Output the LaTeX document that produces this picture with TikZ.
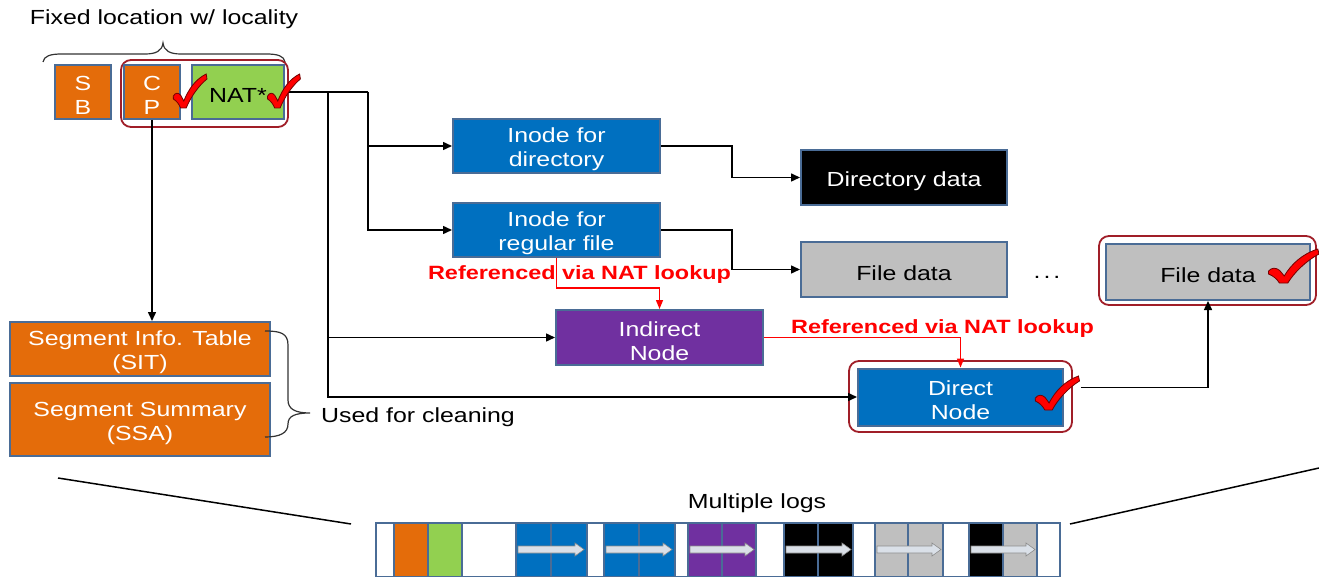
\documentclass[tikz,border=0pt]{standalone}
\usepackage{fontspec}
\setmainfont{Liberation Sans}[FakeStretch=1.22]
\usetikzlibrary{arrows.meta,calc}
\definecolor{bord}{RGB}{74,108,150}
\definecolor{orng}{RGB}{228,108,10}
\definecolor{grn}{RGB}{146,208,80}
\definecolor{blu}{RGB}{0,112,192}
\definecolor{purp}{RGB}{112,48,160}
\definecolor{gry}{RGB}{191,191,191}
\definecolor{frm}{RGB}{160,30,40}
\definecolor{redl}{RGB}{255,0,0}
\definecolor{arrg}{RGB}{218,224,232}
\newcommand\mystrut{\rule{0pt}{21.5pt}}
\tikzset{
  box/.style={draw=bord, line width=2pt, inner sep=0pt, align=center, text=white},
  frame/.style={draw=frm, line width=1.8pt, rounded corners=10pt, inner sep=0pt},
  conn/.style={draw=black, line width=1.5pt},
  arr/.style={conn, -{Triangle[length=9pt,width=8pt]}},
  redarr/.style={draw=redl, line width=1.4pt, -{Triangle[length=9pt,width=7pt]}},
  lbl/.style={inner sep=0pt},
  redlbl/.style={inner sep=0pt, text=redl, font=\fontsize{19.2}{22}\selectfont\bfseries},
  chk/.pic={\filldraw[fill=redl, draw=red!45!black, line width=0.8pt]
    (-10,-12) .. controls (-7,-14) and (-3,-12) .. (-1,-8) -- (1,-5)
    .. controls (7,-17) and (16,-27) .. (29,-32) -- (30,-27)
    .. controls (19,-20) and (9,-8) .. (4,2) -- (-3,2)
    .. controls (-5,-2) and (-8,-5) .. (-12,-7)
    .. controls (-13,-9) and (-12,-11) .. (-10,-12) -- cycle;}
}
\begin{document}
\begin{tikzpicture}[x=1pt,y=-1pt,font=\fontsize{20.4}{24}\selectfont]
\useasboundingbox (0,0) rectangle (1319,577);

% title and brace
\node[lbl] (title) at (164,19) {Fixed location w/ locality};
\draw[line width=1.2pt, black!80] (43,62) .. controls (44,56) and (50,54) .. (62,54) -- (145,54)
  .. controls (156,54) and (162,51) .. (163,43) .. controls (164,51) and (170,54) .. (181,54)
  -- (266,54) .. controls (278,54) and (284,56) .. (285,62);

% frames
\node[frame, minimum width=167pt, minimum height=67pt] (cpframe) at (204.5,93.5) {};
\node[frame, minimum width=217pt, minimum height=69pt] (fdframe) at (1207.5,270.5) {};
\node[frame, minimum width=223pt, minimum height=71pt] (dnframe) at (960.5,396.5) {};

% boxes
\node[box, fill=orng, minimum width=56pt, minimum height=54pt] (sb) at (83,92) {\mystrut S\\B};
\node[box, fill=orng, minimum width=56pt, minimum height=54pt] (cp) at (152,92) {\mystrut C\\P};
\node[box, fill=grn, text=black, minimum width=92pt, minimum height=54pt] (nat) at (238,92) {\mystrut NAT*};
\node[box, fill=orng, minimum width=260pt, minimum height=54pt] (sit) at (140,349) {\mystrut Segment Info. Table\\(SIT)};
\node[box, fill=orng, minimum width=260pt, minimum height=73pt] (ssa) at (140,419.5) {\mystrut Segment Summary\\(SSA)};
\node[box, fill=blu, minimum width=207pt, minimum height=54pt] (idir) at (556.5,146) {\mystrut Inode for\\directory};
\node[box, fill=blu, minimum width=207pt, minimum height=54pt] (ireg) at (556.5,230) {\mystrut Inode for\\regular file};
\node[box, fill=black, minimum width=206pt, minimum height=55pt] (ddata) at (904,177.5) {\mystrut Directory data};
\node[box, fill=gry, text=black, minimum width=206pt, minimum height=55pt] (fdata) at (904,269.5) {\mystrut File data};
\node[box, fill=gry, text=black, minimum width=204pt, minimum height=56pt] (fd2) at (1208,272) {\mystrut File data};
\node[box, fill=purp, minimum width=207pt, minimum height=55pt] (ind) at (659.5,337.5) {\mystrut Indirect\\Node};
\node[box, fill=blu, minimum width=205pt, minimum height=57pt] (dn) at (960.5,397) {\mystrut Direct\\Node};
\node[lbl] (dots) at (1047,277) {.\hspace{3pt}.\hspace{3pt}.};

% used for cleaning brace
\draw[line width=1.2pt, black!80] (265,331) .. controls (280,331) and (288,333) .. (288,345) -- (288,400)
  .. controls (288,409) and (295,413) .. (310,413) .. controls (295,413) and (288,416) .. (288,424)
  .. controls (288,433) and (280,437) .. (265,437);
\node[lbl, anchor=west] (clean) at (321,417) {Used for cleaning};

% connectors
\coordinate (j1) at (368,92);
\coordinate (j2) at (328,92);
\draw[conn] (nat.east) -- (j1);
\draw[arr] (j1) |- (idir.west);
\draw[arr] (j1) |- (ireg.west);
\draw[arr] (j2) |- (ind.west);
\draw[arr] (j2) |- (dn.west);
\draw[arr] (cp.south) -- (cp.south |- sit.north);
\draw[arr] (idir.east) -- ++(71,0) |- (ddata.west);
\draw[arr] (ireg.east) -- ++(71,0) |- (fdata.west);
\draw[arr] ([shift={(8,-9)}]dnframe.east) -| (fd2.south);
\draw[redarr] (ireg.south) -- ++(0,30) -| (ind.north);
\draw[redarr] (ind.east) -| (dn.north);
\node[redlbl] (rl1) at (579.5,275) {Referenced via NAT lookup};
\node[redlbl] (rl2) at (942.5,329) {Referenced via NAT lookup};

% check marks
\pic[xscale=0.8] at (183,106) {chk};
\pic[xscale=0.78] at (277,106) {chk};
\pic[xscale=1.2] at (1283,281) {chk};
\pic[xscale=1.05] at (1048,408) {chk};

% multiple logs
\node[lbl] (mlogs) at (757,503) {Multiple logs};
\foreach \a/\b/\c in {376/394/white, 394/428/orng, 428/462/grn, 462/516/white,
  516/551/blu, 551/587/blu, 587/604/white, 604/639/blu, 639/675/blu, 675/688/white,
  688/722/purp, 722/756/purp, 756/784/white, 784/818/black, 818/853/black, 853/875/white,
  875/908/gry, 908/943/gry, 943/969/white, 969/1003/black, 1003/1037/gry, 1037/1060/white}
  \draw[draw=bord, line width=1.5pt, fill=\c] (\a,523) rectangle (\b,577);
\draw[draw=bord, line width=2pt] (376,523) rectangle (1060,577);
\foreach \a/\b in {518/584, 606/672, 690/754, 786/851, 877/941, 971/1035}
  \draw[draw=black!45, line width=0.6pt, fill=arrg] (\a,546) -- (\b-9,546) -- (\b-9,543)
    -- (\b,549.5) -- (\b-9,556) -- (\b-9,553) -- (\a,553) -- cycle;
\draw[line width=1.5pt] (58,478) -- (351,524);
\draw[line width=1.5pt] (1070,524) -- (1319,468);
\end{tikzpicture}
\end{document}
